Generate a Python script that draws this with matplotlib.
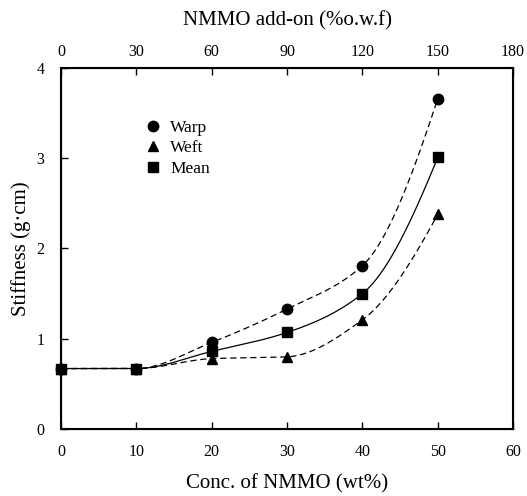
import numpy as np
import matplotlib
matplotlib.use("Agg")
import matplotlib.pyplot as plt

plt.rcParams['font.family'] = ['Liberation Serif', 'DejaVu Serif']

conc = [0, 10, 20, 30, 40, 50]
warp = [0.67, 0.67, 0.96, 1.33, 1.81, 3.66]
weft = [0.67, 0.67, 0.78, 0.80, 1.21, 2.38]
mean = [0.67, 0.67, 0.86, 1.07, 1.50, 3.01]
bottom_ticks = [0, 10, 20, 30, 40, 50, 60]
top_ticks = [0, 30, 60, 90, 120, 150, 180]
y_ticks = [0, 1, 2, 3, 4]


def pchip(x, y, xs):
    x = np.asarray(x, float); y = np.asarray(y, float)
    h = np.diff(x); d = np.diff(y) / h
    n = len(x); m = np.zeros(n)
    for k in range(1, n - 1):
        if d[k - 1] * d[k] <= 0:
            m[k] = 0
        else:
            w1 = 2 * h[k] + h[k - 1]; w2 = h[k] + 2 * h[k - 1]
            m[k] = (w1 + w2) / (w1 / d[k - 1] + w2 / d[k])
    m[0] = d[0]; m[-1] = ((2 * h[-1] + h[-2]) * d[-1] - h[-1] * d[-2]) / (h[-1] + h[-2])
    if m[-1] * d[-1] <= 0:
        m[-1] = 0
    out = np.empty_like(xs)
    for i, xv in enumerate(xs):
        k = int(np.clip(np.searchsorted(x, xv, side='right') - 1, 0, n - 2))
        t = (xv - x[k]) / h[k]
        h00 = 2 * t**3 - 3 * t**2 + 1; h10 = t**3 - 2 * t**2 + t
        h01 = -2 * t**3 + 3 * t**2; h11 = t**3 - t**2
        out[i] = h00 * y[k] + h10 * h[k] * m[k] + h01 * y[k + 1] + h11 * h[k] * m[k + 1]
    return out


fig = plt.figure(figsize=(5.27, 4.96), dpi=100)
ax = fig.add_axes([0.1157, 0.135, 0.858, 0.728])

xs = np.linspace(conc[0], conc[-1], 300)
ax.plot(xs, pchip(conc, warp, xs), color='black', lw=0.9, ls=(0, (5, 3)))
ax.plot(xs, pchip(conc, weft, xs), color='black', lw=0.9, ls=(0, (5, 3)))
ax.plot(xs, pchip(conc, mean, xs), color='black', lw=0.9, ls='-')

ax.plot(conc, warp, 'o', color='black', ms=7.5, label='Warp', clip_on=False)
ax.plot(conc, weft, '^', color='black', ms=7.5, label='Weft', clip_on=False)
ax.plot(conc, mean, 's', color='black', ms=7, label='Mean', clip_on=False)

ax.set_xlim(0, 60)
ax.set_ylim(0, 4)
ax.set_xticks(bottom_ticks)
ax.set_yticks(y_ticks)
ax.tick_params(direction='in', length=5, width=1, labelsize=11.5, right=False, top=False)
ax.tick_params(axis='x', pad=11)
ax.tick_params(axis='y', pad=12)
for s in ax.spines.values():
    s.set_linewidth(1.5)
ax.set_xlabel('Conc. of NMMO (wt%)', fontsize=15, labelpad=10)
ax.set_ylabel('Stiffness (g·cm)', fontsize=15, labelpad=4)

ax2 = ax.twiny()
ax2.set_xlim(0, 180)
ax2.set_xticks(top_ticks)
ax2.tick_params(direction='in', length=5, width=1, labelsize=11.5, pad=6)
ax2.set_xlabel('NMMO add-on (%o.w.f)', fontsize=15, labelpad=13)

leg = ax.legend(loc='upper left', bbox_to_anchor=(0.15, 0.90), frameon=False,
                fontsize=12.5, handletextpad=0.5, labelspacing=0.25, handlelength=1.0,
                numpoints=1)

fig.savefig('out.png', dpi=100)
